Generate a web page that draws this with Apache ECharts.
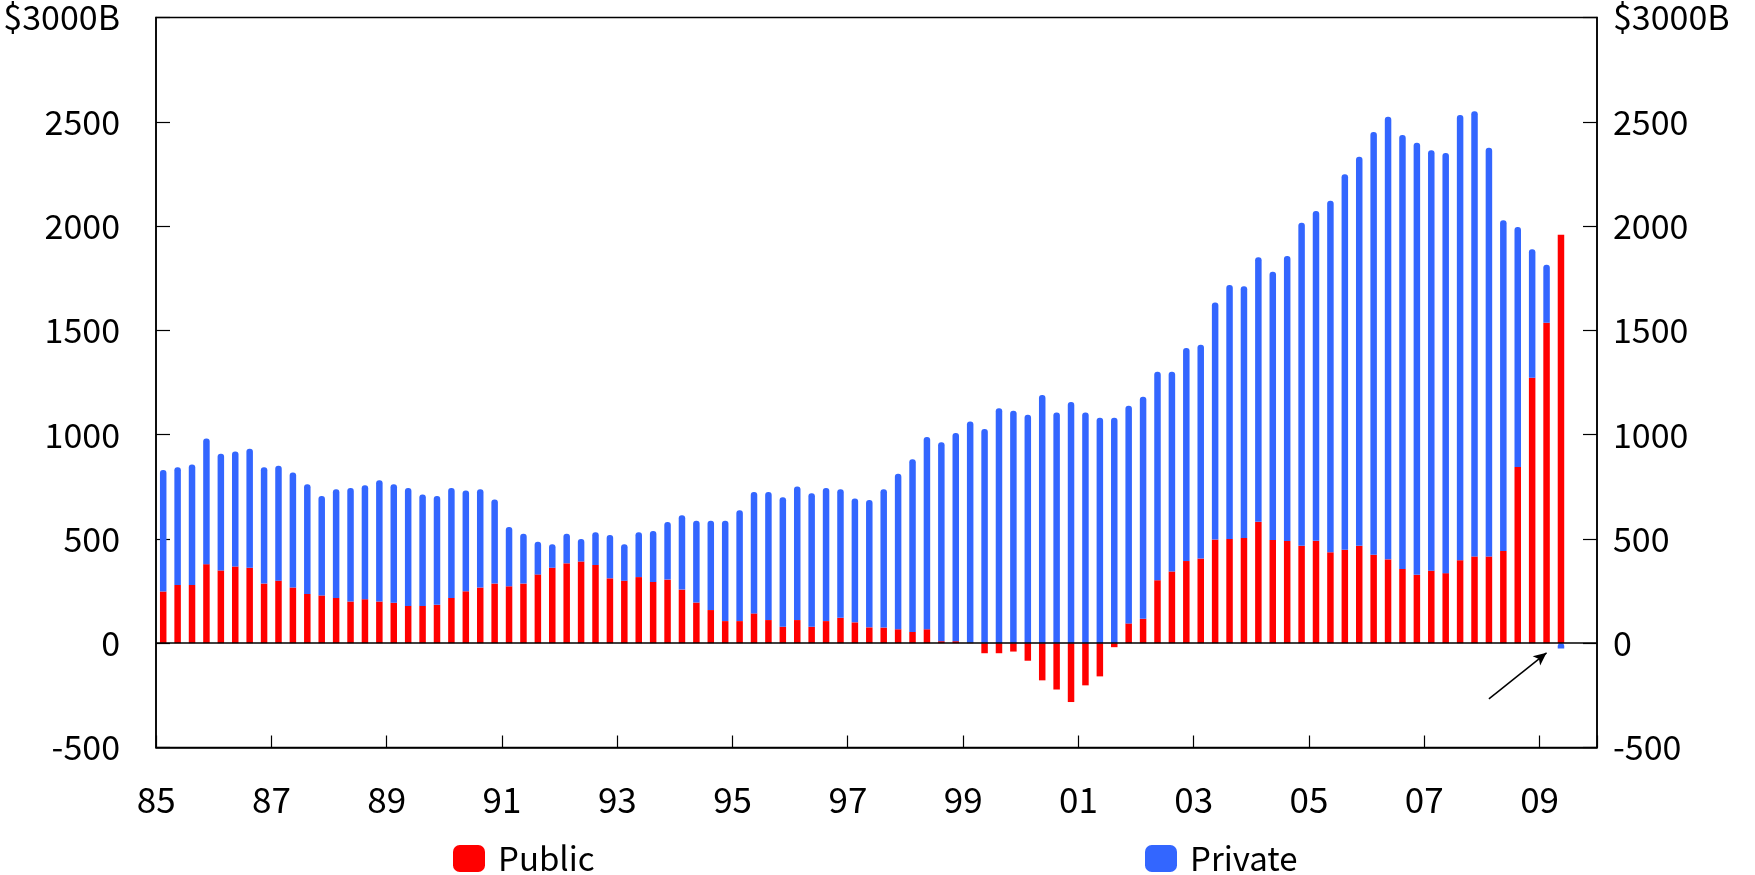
<!DOCTYPE html>
<html>
<head>
<meta charset="utf-8">
<script src="https://cdn.jsdelivr.net/npm/echarts@6/dist/echarts.min.js"></script>
<style>
html,body{margin:0;padding:0;background:#fff;}
#chart{width:1755px;height:875px;}
</style>
</head>
<body>
<div id="chart"></div>
<script>
// Quarterly categories 1985Q1 .. 2009Q4
const categories = [
'85Q1','85Q2','85Q3','85Q4','86Q1','86Q2','86Q3','86Q4','87Q1','87Q2','87Q3','87Q4',
'88Q1','88Q2','88Q3','88Q4','89Q1','89Q2','89Q3','89Q4','90Q1','90Q2','90Q3','90Q4',
'91Q1','91Q2','91Q3','91Q4','92Q1','92Q2','92Q3','92Q4','93Q1','93Q2','93Q3','93Q4',
'94Q1','94Q2','94Q3','94Q4','95Q1','95Q2','95Q3','95Q4','96Q1','96Q2','96Q3','96Q4',
'97Q1','97Q2','97Q3','97Q4','98Q1','98Q2','98Q3','98Q4','99Q1','99Q2','99Q3','99Q4',
'00Q1','00Q2','00Q3','00Q4','01Q1','01Q2','01Q3','01Q4','02Q1','02Q2','02Q3','02Q4',
'03Q1','03Q2','03Q3','03Q4','04Q1','04Q2','04Q3','04Q4','05Q1','05Q2','05Q3','05Q4',
'06Q1','06Q2','06Q3','06Q4','07Q1','07Q2','07Q3','07Q4','08Q1','08Q2','08Q3','08Q4',
'09Q1','09Q2','09Q3','09Q4'
];

// Public borrowing ($B)
const publicValues = [
248,279,279,379,349,368,362,286,300,267,236,229,
217,200,211,200,194,179,179,184,217,249,267,286,
273,286,330,362,383,392,375,311,300,317,294,305,
257,195,159,106,106,143,111,79,111,79,106,122,
100,76,75,67,54,67,10,10,2,-48,-48,-40,
-84,-178,-222,-282,-202,-159,-19,95,117,302,344,394,
406,497,500,505,582,495,490,467,491,436,448,467,
424,402,356,328,348,336,398,416,416,442,845,1273,
1537,1958,null,null
];

// Private borrowing ($B), stacked on public
const privateValues = [
582,565,578,602,559,551,570,558,551,552,526,477,
521,544,546,581,568,565,534,522,527,483,471,403,
284,239,157,113,142,108,157,208,175,215,244,276,
356,392,428,481,532,582,614,621,640,640,638,616,
594,611,663,746,828,922,953,998,1061,1027,1127,1114,
1095,1190,1106,1157,1106,1081,1081,1043,1065,999,957,1022,
1025,1137,1218,1206,1268,1286,1366,1549,1581,1685,1800,1865,
2027,2122,2081,2071,2015,2014,2134,2134,1959,1586,1151,616,
278,-25,null,null
];

const yTickLabels = {'3000':'$3000B'};
const seriesNames = ['Public','Private'];

const FONT = "'Noto Sans CJK JP','Noto Sans',sans-serif";
const chart = echarts.init(document.getElementById('chart'), null, {renderer:'canvas'});

function isTickIdx(i){
  const c = categories[i];
  return c.slice(2) === 'Q1' && (parseInt(c.slice(0,2),10) % 2 === 1);
}

const yLabelCommon = {
  color:'#000', fontSize:34, fontFamily:FONT,
  formatter: v => yTickLabels[String(v)] || String(v)
};

const legendCommon = {
  itemWidth:32, itemHeight:27, icon:'roundRect', padding:0, top:842,
  textStyle:{color:'#000', fontSize:33, fontFamily:FONT, padding:[0,0,0,8]}
};

chart.setOption({
  animation:false,
  backgroundColor:'#fff',
  grid:{left:156, right:158, top:17.5, bottom:127.5, show:true, borderColor:'#000', borderWidth:1.5,
        containLabel:false, outerBoundsMode:'none'},
  legend:[
    Object.assign({data:[seriesNames[0]], left:453}, legendCommon),
    Object.assign({data:[seriesNames[1]], left:1145}, legendCommon)
  ],
  xAxis:{
    type:'category', data:categories, boundaryGap:true,
    axisLine:{show:true, onZero:false, lineStyle:{color:'#000', width:1.5}},
    axisTick:{show:true, inside:true, length:12, alignWithLabel:false, interval:(i)=>isTickIdx(i), lineStyle:{color:'#000', width:1.2}},
    axisLabel:{
      interval:(i)=>isTickIdx(i), margin:35, hideOverlap:false,
      formatter: v => '{a|' + v.slice(0,2) + '}',
      rich:{a:{fontSize:35, fontFamily:FONT, color:'#000', padding:[0,14,0,0]}}
    },
    splitLine:{show:false}
  },
  yAxis:[
    {type:'value', min:-500, max:3000, interval:500, position:'left',
     axisLine:{show:true, lineStyle:{color:'#000', width:1.5}},
     axisTick:{show:true, inside:true, length:14, lineStyle:{color:'#000', width:1.2}},
     axisLabel:Object.assign({margin:36}, yLabelCommon),
     splitLine:{show:false}},
    {type:'value', min:-500, max:3000, interval:500, position:'right',
     axisLine:{show:true, lineStyle:{color:'#000', width:1.5}},
     axisTick:{show:true, inside:true, length:14, lineStyle:{color:'#000', width:1.2}},
     axisLabel:Object.assign({margin:16}, yLabelCommon),
     splitLine:{show:false}}
  ],
  series:[
    {name:seriesNames[0], type:'bar', stack:'total', data:publicValues, barWidth:6.5,
     itemStyle:{color:'#ff0000'},
     markLine:{silent:true, symbol:'none', animation:false,
       label:{show:false},
       lineStyle:{color:'#000', width:1.5, type:'solid'},
       data:[{yAxis:0}]}},
    {name:seriesNames[1], type:'bar', stack:'total', data:privateValues, barWidth:6.5,
     itemStyle:{color:'#3366ff', borderRadius:[3,3,0,0]},
     markLine:{silent:true, symbol:['none','arrow'], symbolSize:[9,13], animation:false,
       label:{show:false},
       lineStyle:{color:'#000', width:1.5, type:'solid'},
       data:[[{coord:[92.4,-267]},{coord:[96.1,-46]}]]}}
  ]
});
</script>
</body>
</html>
